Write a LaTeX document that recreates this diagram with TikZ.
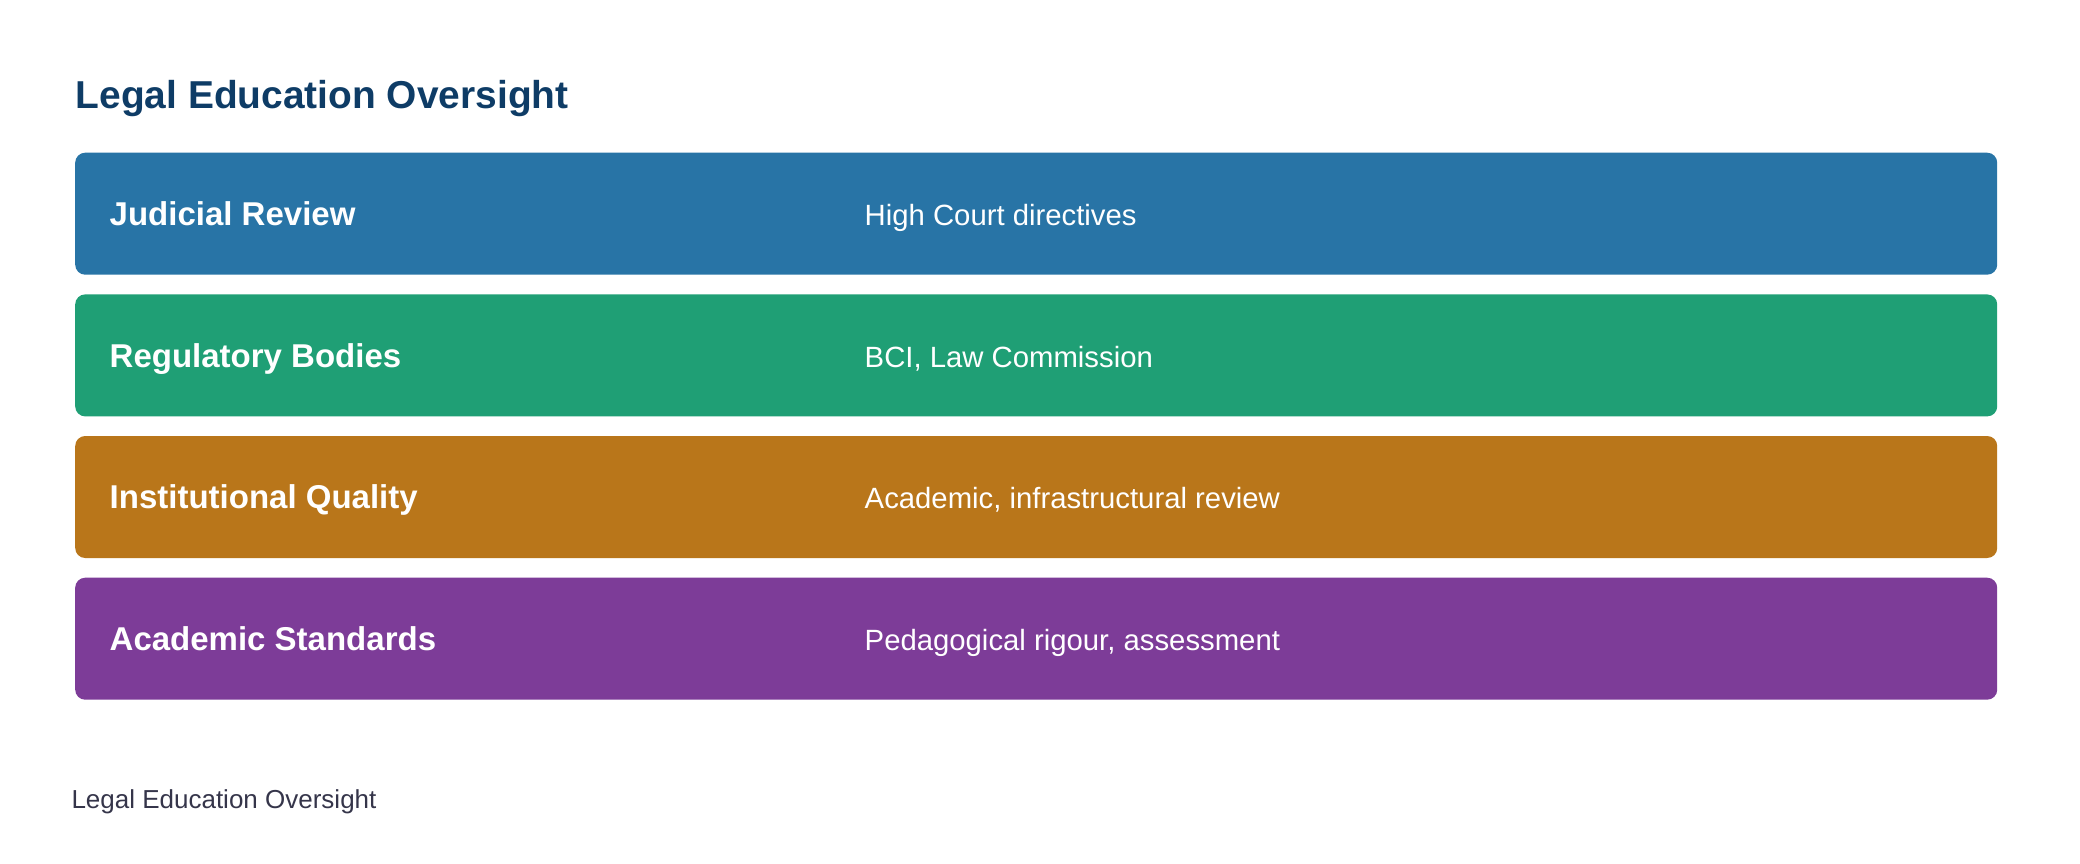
\documentclass[tikz,border=0pt]{standalone}
\usepackage{fontspec}
\setmainfont{Liberation Sans}
\definecolor{titlecol}{HTML}{0E3C66}
\definecolor{footcol}{HTML}{35354A}
\definecolor{cblue}{HTML}{2874A6}
\definecolor{cgreen}{HTML}{1F9F75}
\definecolor{corange}{HTML}{B9761A}
\definecolor{cpurple}{HTML}{7D3C98}
\begin{document}
\begin{tikzpicture}[x=1pt,y=1pt,
  bar/.style={draw=none, rounded corners=10pt, anchor=north west, inner sep=0pt,
    minimum width=1922pt, minimum height=122pt},
  lbl/.style={anchor=base west, inner sep=0pt, text=white,
    font=\fontsize{33}{40}\selectfont\bfseries},
  desc/.style={anchor=base west, inner sep=0pt, text=white,
    font=\fontsize{29.3}{35}\selectfont},
  ttl/.style={anchor=base west, inner sep=0pt, text=titlecol,
    font=\fontsize{38.9}{46}\selectfont\bfseries},
  foot/.style={anchor=base west, inner sep=0pt, text=footcol,
    font=\fontsize{26}{32}\selectfont}]
\useasboundingbox (0,0) rectangle (2080,-864);
\node[ttl] (title) at (75.5,-109) {Legal Education Oversight};
\node[bar, fill=cblue] (b1) at (75,-152.5) {};
\node[bar, fill=cgreen] (b2) at (75,-294.2) {};
\node[bar, fill=corange] (b3) at (75,-435.8) {};
\node[bar, fill=cpurple] (b4) at (75,-577.5) {};
\node[lbl] (l1) at (109.5,-225.5) {Judicial Review};
\node[lbl] (l2) at (109.5,-367.2) {Regulatory Bodies};
\node[lbl] (l3) at (109.5,-508.8) {Institutional Quality};
\node[lbl] (l4) at (109.5,-650.5) {Academic Standards};
\node[desc] (d1) at (864.5,-225.5) {High Court directives};
\node[desc] (d2) at (864.5,-367.2) {BCI, Law Commission};
\node[desc] (d3) at (864.5,-508.8) {Academic, infrastructural review};
\node[desc] (d4) at (864.5,-650.5) {Pedagogical rigour, assessment};
\node[foot] (footer) at (71.3,-808) {Legal Education Oversight};
\end{tikzpicture}
\end{document}
